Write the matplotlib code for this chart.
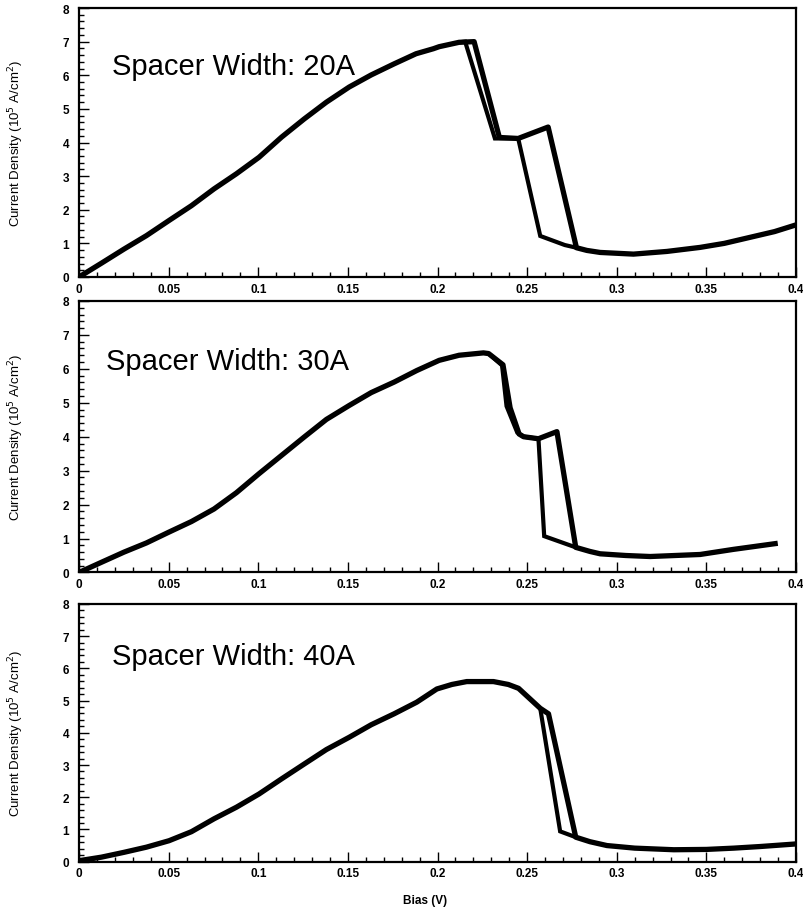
import matplotlib
matplotlib.use("Agg")
import matplotlib.pyplot as plt
from matplotlib.ticker import MultipleLocator, FormatStrFormatter

plt.rcParams['font.family'] = ['Liberation Sans', 'DejaVu Sans']

# spacer widths (A) for the three panels
spacers = [20, 30, 40]

# 20A: increasing-bias sweep
up20_v = [0.0, 0.0125, 0.0251, 0.0376, 0.0502, 0.0627, 0.0753, 0.0878, 0.1004, 0.113,
          0.1256, 0.138, 0.1507, 0.163, 0.1758, 0.188, 0.1977, 0.2009, 0.212, 0.2204,
          0.2345, 0.245, 0.2617, 0.2775, 0.2833, 0.2907, 0.3093, 0.328, 0.3465, 0.36,
          0.3744, 0.388, 0.4]
up20_j = [0.0, 0.41, 0.83, 1.23, 1.68, 2.12, 2.62, 3.07, 3.56, 4.16,
          4.70, 5.2, 5.65, 6.01, 6.34, 6.64, 6.79, 6.85, 6.98, 7.0,
          4.15, 4.12, 4.46, 0.87, 0.79, 0.73, 0.68, 0.76, 0.88, 1.0,
          1.18, 1.35, 1.55]
# 20A: decreasing-bias branch through the bistable region
dn20_v = [0.2775, 0.271, 0.2573, 0.245, 0.232, 0.2154, 0.212]
dn20_j = [0.87, 0.95, 1.22, 4.12, 4.12, 7.0, 6.98]

# 30A
up30_v = [0.0, 0.0125, 0.0251, 0.0376, 0.0502, 0.0627, 0.0753, 0.0878, 0.1004, 0.113,
          0.1256, 0.138, 0.1507, 0.163, 0.1758, 0.1884, 0.2009, 0.212, 0.2256, 0.2285,
          0.2365, 0.2405, 0.2455, 0.248, 0.2563, 0.2666, 0.2771, 0.285, 0.2907, 0.305,
          0.3186, 0.3465, 0.365, 0.3898]
up30_j = [0.0, 0.30, 0.60, 0.87, 1.19, 1.50, 1.87, 2.35, 2.91, 3.45,
          3.99, 4.51, 4.92, 5.30, 5.61, 5.95, 6.25, 6.40, 6.47, 6.45,
          6.12, 4.85, 4.08, 4.0, 3.94, 4.15, 0.74, 0.62, 0.55, 0.50,
          0.47, 0.53, 0.68, 0.86]
dn30_v = [0.2771, 0.2595, 0.2563, 0.248, 0.2445, 0.2385, 0.236, 0.2285]
dn30_j = [0.74, 1.07, 3.94, 4.0, 4.12, 4.9, 6.1, 6.45]

# 40A
up40_v = [0.0, 0.0125, 0.0251, 0.0376, 0.0502, 0.0627, 0.0753, 0.0878, 0.1004, 0.113,
          0.1256, 0.138, 0.1507, 0.163, 0.1758, 0.1884, 0.1996, 0.208, 0.2163, 0.2312,
          0.2395, 0.2452, 0.2573, 0.2619, 0.2771, 0.285, 0.2945, 0.31, 0.3318, 0.35,
          0.3653, 0.38, 0.4]
up40_j = [0.03, 0.14, 0.29, 0.45, 0.65, 0.93, 1.33, 1.69, 2.10, 2.57,
          3.03, 3.48, 3.86, 4.25, 4.59, 4.95, 5.36, 5.50, 5.59, 5.59,
          5.50, 5.38, 4.76, 4.59, 0.76, 0.62, 0.50, 0.42, 0.37, 0.38,
          0.42, 0.47, 0.55]
dn40_v = [0.2771, 0.2684, 0.2573]
dn40_j = [0.76, 0.94, 4.76]

sweeps = [(up20_v, up20_j, dn20_v, dn20_j),
          (up30_v, up30_j, dn30_v, dn30_j),
          (up40_v, up40_j, dn40_v, dn40_j)]

# axes boxes in figure fractions [left, bottom, width, height]
boxes = [[0.0983, 0.6952, 0.8918, 0.2949],
         [0.0983, 0.3712, 0.8918, 0.2977],
         [0.0983, 0.0541, 0.8918, 0.2826]]
label_y = [6.04, 6.0, 6.14]
label_x = [0.0184, 0.0149, 0.0182]

fig = plt.figure(figsize=(8.04, 9.12), dpi=100)

for i in range(3):
    ax = fig.add_axes(boxes[i])
    uv, uj, dv, dj = sweeps[i]
    ax.plot(uv, uj, color='black', lw=3.8, solid_joinstyle='round', solid_capstyle='butt')
    ax.plot(dv, dj, color='black', lw=3.0, solid_joinstyle='miter', solid_capstyle='butt')

    ax.set_xlim(0, 0.4)
    ax.set_ylim(0, 8)
    ax.xaxis.set_major_locator(MultipleLocator(0.05))
    ax.xaxis.set_minor_locator(MultipleLocator(0.01))
    ax.yaxis.set_major_locator(MultipleLocator(1))
    ax.yaxis.set_minor_locator(MultipleLocator(0.2))
    ax.xaxis.set_major_formatter(FormatStrFormatter('%g'))
    ax.yaxis.set_major_formatter(FormatStrFormatter('%g'))
    ax.tick_params(which='both', direction='in', top=False, right=False, width=1.0)
    ax.tick_params(which='major', length=7, labelsize=8.5)
    ax.tick_params(axis='x', which='major', pad=4)
    ax.tick_params(axis='y', which='major', pad=7)
    ax.tick_params(which='minor', length=3.5)
    for lab in ax.get_xticklabels() + ax.get_yticklabels():
        lab.set_fontweight('bold')
    for sp in ax.spines.values():
        sp.set_linewidth(1.6)

    ax.set_ylabel('Current Density (10$^5$ A/cm$^2$)', fontsize=9.5)
    ax.yaxis.set_label_coords(-0.074, 0.5)

    ax.text(label_x[i], label_y[i], f'Spacer Width: {spacers[i]}A',
            fontsize=21, ha='left', va='baseline')

    if i == 2:
        ax.set_xlabel('Bias (V)', fontsize=8.5, fontweight='bold')
        ax.xaxis.set_label_coords(0.483, -0.125)

fig.savefig('out.png', dpi=100)
